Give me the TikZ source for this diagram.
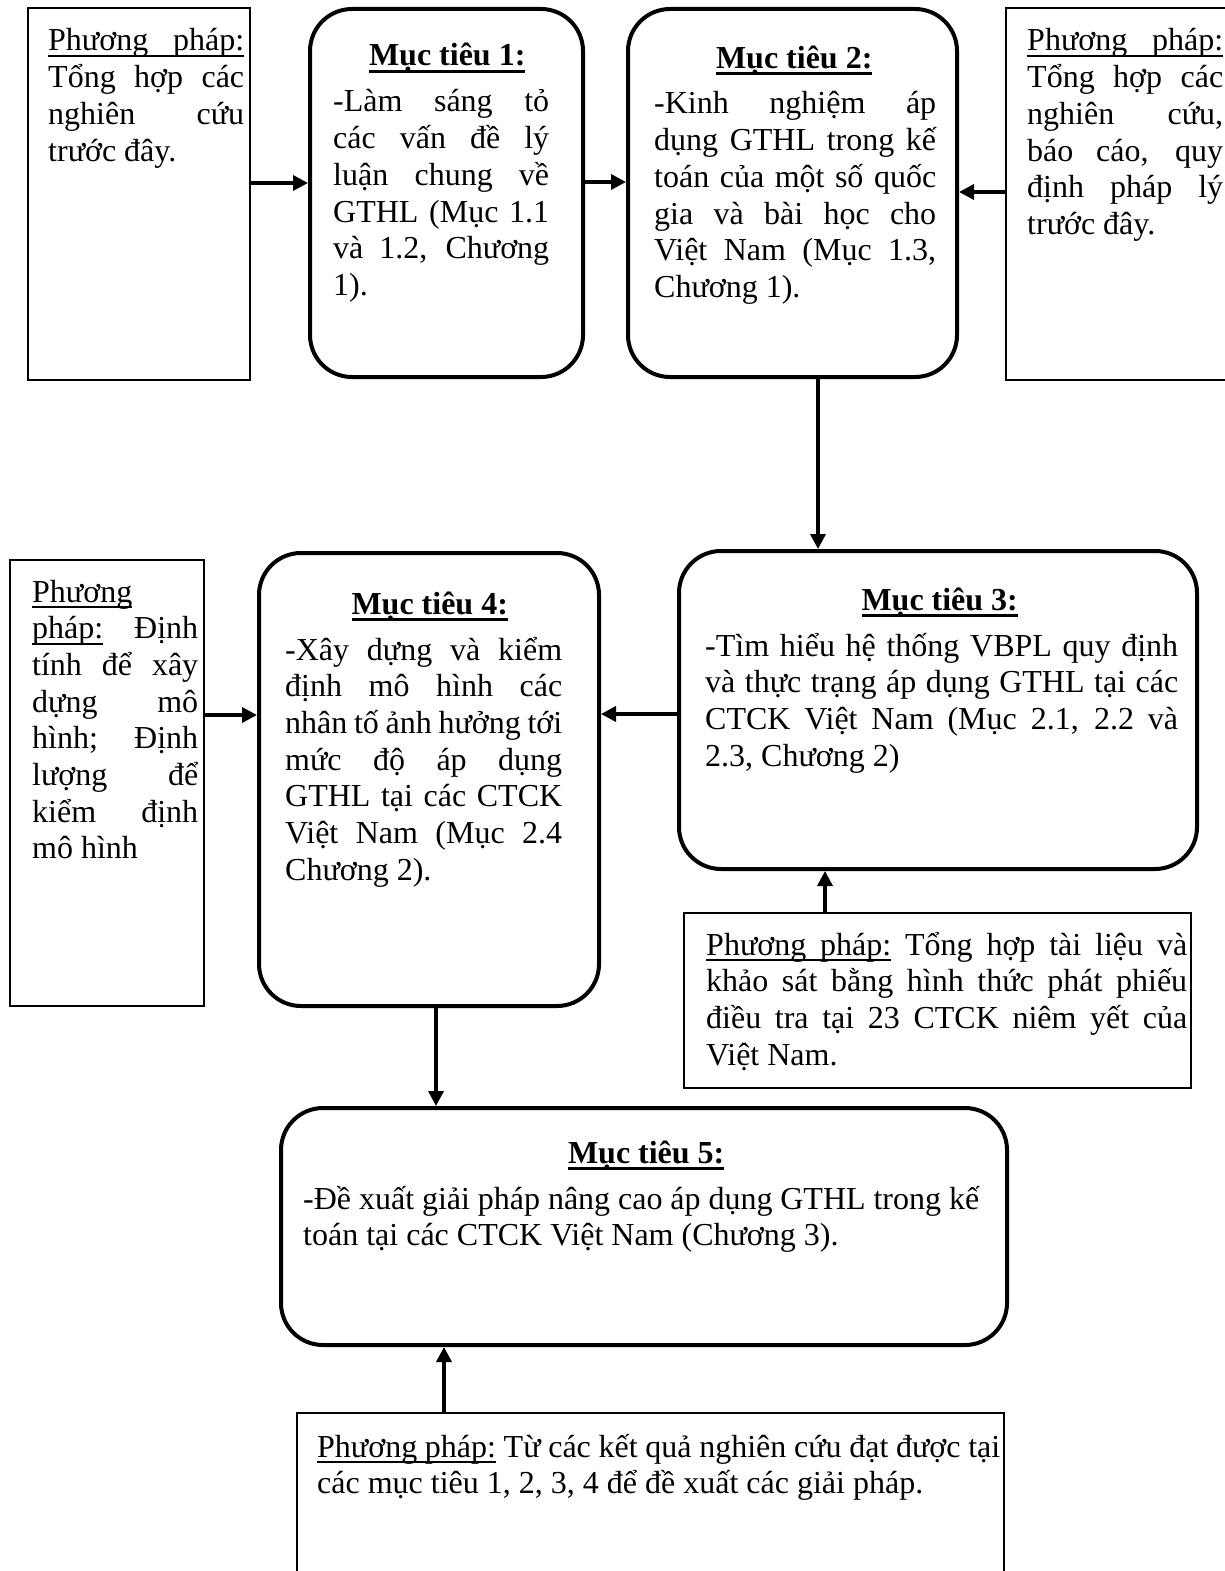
\documentclass[tikz,border=0pt]{standalone}
\usepackage{fontspec}
\setmainfont{Liberation Serif}
\usetikzlibrary{arrows.meta}

\hyphenpenalty=10000 \exhyphenpenalty=10000
\tolerance=9999 \hbadness=10000

% gach chan: tu, va khoang trang co gian
\newcommand{\gach}[2][2pt]{\setbox0\hbox{#2}\leavevmode
  \rlap{\vrule height -4pt depth \dimexpr4pt+#1\relax width \wd0}\box0\relax}
\newcommand{\gachsp}{\leaders\hrule height -4pt depth 6pt
  \hskip\fontdimen2\font plus\fontdimen3\font minus\fontdimen4\font}
\newcommand{\muctieu}[2][0pt]{{\centering\hspace*{#1}\gach[3pt]{\textbf{#2}}\par}\vspace{9.3pt}}
\newcommand{\phuongphap}{\gach{Phương}\gachsp\gach{pháp:}}

\tikzset{
  goal/.style={draw, line width=4pt, rounded corners=42pt, inner sep=0pt},
  method/.style={draw, line width=2pt, inner sep=0pt},
  txt/.style={inner sep=0pt, anchor=base west, align=justify,
    font=\fontsize{32}{36.7}\selectfont},
  arr/.style={line width=3.5pt, -{Triangle[length=15pt,width=15pt]}}
}

\begin{document}
\begin{tikzpicture}[x=1pt,y=-1pt]
\useasboundingbox (0,0) rectangle (1225,1571);

% khung
\node[method, minimum width=222pt, minimum height=372pt] (pp1) at (139,194) {};
\node[goal, minimum width=273pt, minimum height=368pt] (mt1) at (446.5,193) {};
\node[goal, minimum width=329pt, minimum height=368pt] (mt2) at (792.5,193) {};
\node[method, minimum width=234pt, minimum height=372pt] (pp2) at (1123,194) {};
\node[method, minimum width=194pt, minimum height=446pt] (pp4) at (107,783) {};
\node[goal, minimum width=340pt, minimum height=453pt] (mt4) at (429,779.5) {};
\node[goal, minimum width=518pt, minimum height=318pt] (mt3) at (938,710) {};
\node[method, minimum width=507pt, minimum height=175pt] (pp3) at (937.5,1000.5) {};
\node[goal, minimum width=726pt, minimum height=237pt] (mt5) at (644,1226.5) {};
\node[method, minimum width=707pt, minimum height=188pt] (pp5) at (650.5,1507) {};

% chu
\node[txt, text width=196pt] (t-pp1) at ([xshift=21pt,yshift=-44pt]pp1.north west)
  {\phuongphap\linebreak Tổng hợp các\linebreak nghiên cứu\linebreak trước đây.};
\node[txt, text width=216pt] (t-mt1) at ([xshift=25pt,yshift=-59pt]mt1.north west)
  {\muctieu[12pt]{Mục tiêu 1:}-Làm sáng tỏ\linebreak các vấn đề lý\linebreak luận chung về\linebreak
   GTHL (Mục 1.1\linebreak và 1.2, Chương\linebreak 1).};
\node[txt, text width=282pt] (t-mt2) at ([xshift=28pt,yshift=-61pt]mt2.north west)
  {\muctieu[-2pt]{Mục tiêu 2:}-Kinh nghiệm áp\linebreak dụng GTHL trong kế\linebreak toán của một số quốc\linebreak
   gia và bài học cho\linebreak Việt Nam (Mục 1.3,\linebreak Chương 1).};
\node[txt, text width=196pt] (t-pp2) at ([xshift=22pt,yshift=-44pt]pp2.north west)
  {\phuongphap\linebreak Tổng hợp các\linebreak nghiên cứu,\linebreak báo cáo, quy\linebreak
   định pháp lý\linebreak trước đây.};
\node[txt, text width=166pt] (t-pp4) at ([xshift=23pt,yshift=-43pt]pp4.north west)
  {\gach{Phương}\linebreak \gach{pháp:} Định\linebreak tính để xây\linebreak dựng mô\linebreak
   hình; Định\linebreak lượng để\linebreak kiểm định\linebreak mô hình};
\node[txt, text width=277pt] (t-mt4) at ([xshift=28pt,yshift=-63pt]mt4.north west)
  {\muctieu[12pt]{Mục tiêu 4:}-Xây dựng và kiểm\linebreak định mô hình các\linebreak nhân tố ảnh hưởng tới\linebreak
   mức độ áp dụng\linebreak GTHL tại các CTCK\linebreak Việt Nam (Mục 2.4\linebreak Chương 2).};
\node[txt, text width=473pt] (t-mt3) at ([xshift=28pt,yshift=-61pt]mt3.north west)
  {\muctieu[-4pt]{Mục tiêu 3:}-Tìm hiểu hệ thống VBPL quy định\linebreak và thực trạng áp dụng GTHL tại các\linebreak
   CTCK Việt Nam (Mục 2.1, 2.2 và\linebreak 2.3, Chương 2)};
\node[txt, text width=481pt] (t-pp3) at ([xshift=23pt,yshift=-43pt]pp3.north west)
  {\phuongphap{} Tổng hợp tài liệu và\linebreak khảo sát bằng hình thức phát phiếu\linebreak
   điều tra tại 23 CTCK niêm yết của\linebreak Việt Nam.};
\node[txt, text width=676pt] (t-mt5) at ([xshift=24pt,yshift=-57pt]mt5.north west)
  {\muctieu[10pt]{Mục tiêu 5:}-Đề xuất giải pháp nâng cao áp dụng GTHL trong kế\linebreak
   toán tại các CTCK Việt Nam (Chương 3).};
\node[txt, text width=683pt] (t-pp5) at ([xshift=21pt,yshift=-45pt]pp5.north west)
  {\phuongphap{} Từ các kết quả nghiên cứu đạt được tại\linebreak các mục tiêu 1, 2, 3, 4 để đề xuất các giải pháp.};

% mui ten
\begin{scope}[every path/.style={arr}]
  \draw ([yshift=11pt]pp1.east) -- ([yshift=11pt]pp1.east -| mt1.west);
  \draw ([yshift=11pt]mt1.east) -- ([yshift=11pt]mt1.east -| mt2.west);
  \draw ([yshift=2pt]pp2.west) -- ([yshift=2pt]pp2.west -| mt2.east);
  \draw ([xshift=25.5pt]mt2.south) -- ([xshift=25.5pt]mt2.south |- mt3.north);
  \draw ([yshift=-4pt]mt3.west) -- ([yshift=-4pt]mt3.west -| mt4.east);
  \draw ([yshift=68pt]pp4.east) -- ([yshift=68pt]pp4.east -| mt4.west);
  \draw ([xshift=-112.5pt]pp3.north) -- ([xshift=-112.5pt]pp3.north |- mt3.south);
  \draw ([xshift=7pt]mt4.south) -- ([xshift=7pt]mt4.south |- mt5.north);
  \draw ([xshift=-206.5pt]pp5.north) -- ([xshift=-206.5pt]pp5.north |- mt5.south);
\end{scope}

\end{tikzpicture}
\end{document}
